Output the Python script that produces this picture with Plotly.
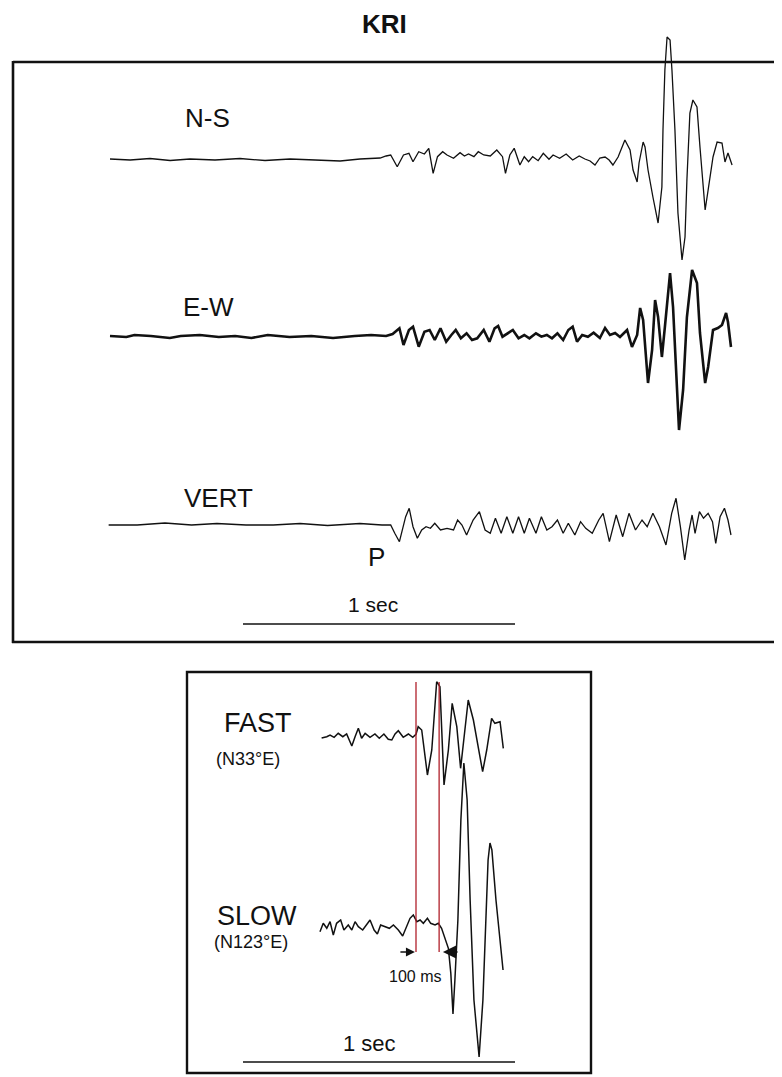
import plotly.graph_objects as go

# page body has an 8 px margin: the figure is placed so that page pixels match the reference
PAGE_W, PAGE_H = 782, 1077
BODY_MARGIN = 8
FIG_W, FIG_H = PAGE_W - BODY_MARGIN, PAGE_H - BODY_MARGIN

PX_PER_SEC = 272.0      # horizontal scale: 1 s of record
X_ORIGIN_PX = 110.0     # page pixel of t = 0

# ---------------- data (time in s, amplitude in arbitrary units, + = up) -------------
ns_time = [0.000, 0.074, 0.147, 0.221, 0.294, 0.386, 0.478, 0.570, 0.662, 0.754, 0.846, 0.919, 0.993,
           1.015, 1.032, 1.056, 1.079, 1.099, 1.114, 1.135, 1.156, 1.172, 1.188, 1.204, 1.223, 1.239,
           1.263, 1.287, 1.303, 1.318, 1.338, 1.354, 1.374, 1.398, 1.422, 1.443, 1.454, 1.470, 1.486,
           1.507, 1.523, 1.539, 1.554, 1.574, 1.593, 1.614, 1.629, 1.653, 1.677, 1.701, 1.725,
           1.746, 1.765, 1.783, 1.801, 1.820, 1.835, 1.849, 1.868, 1.893, 1.912, 1.923, 1.938, 1.945,
           1.960, 1.967, 1.978, 1.996, 2.015, 2.029, 2.033, 2.040, 2.048, 2.059, 2.066, 2.077, 2.088,
           2.103, 2.114, 2.121, 2.132, 2.143, 2.158, 2.169, 2.180, 2.188, 2.199, 2.217, 2.232, 2.250,
           2.261, 2.272, 2.287]
ns_amp = [1, 0, 1.5, -0.5, 1, 0, 1.5, -0.5, 1, 0, -1, 1, 2,
          4, 5, -6.7, 5, 6.7, -1.7, 8.3, 6, 11.7, -13.3, 3.3, 8.3, 5,
          1.7, 7.3, 4, 6, 3.3, 8.3, 5, 4, 10, 3.3, -13.3, 5, 11.7,
          -5, 3.3, -1.7, 3.3, -0.7, 6.7, 0.7, 5, 1.7, 6, 0, 4,
          1, -1, -5, 2, 3, 0, -5, 3, 20, 10, -10, -22, -3,
          18, 13, -10, -37, -63, -27, 30, 90, 123, 120, 90, 30, -53,
          -100, -77, -20, 47, 60, 53, 13, -20, -50, -30, 3, 18, 17,
          -2, 7, -5]

ew_time = [0.000, 0.060, 0.090, 0.150, 0.220, 0.260, 0.330, 0.400, 0.460, 0.520, 0.580, 0.660,
           0.740, 0.820, 0.900, 0.960,
           1.015, 1.039, 1.064, 1.079, 1.099, 1.114, 1.135, 1.156, 1.175, 1.194, 1.215, 1.236,
           1.255, 1.271, 1.290, 1.311, 1.331, 1.350, 1.374, 1.395, 1.414, 1.427, 1.443, 1.462,
           1.481, 1.502, 1.523, 1.542, 1.566, 1.586, 1.606, 1.625, 1.645, 1.666, 1.685, 1.701,
           1.717, 1.736, 1.757, 1.778,
           1.801, 1.820, 1.838, 1.857, 1.875, 1.901, 1.919, 1.938, 1.949, 1.960, 1.974, 1.978,
           1.993, 2.004, 2.015, 2.029, 2.040, 2.059, 2.070, 2.085, 2.092, 2.107, 2.121, 2.140,
           2.158, 2.169, 2.188, 2.199, 2.217, 2.235, 2.250, 2.265, 2.272, 2.283]
ew_amp = [0, -1, 1, 0, -2, 0, 1, -1, 0, -2, 1, -1,
          0, -2, 0, 1,
          0, 2, 7.7, -9, 6, 9.3, -10.7, 4.3, 6, -4, 7.7, -5.7,
          1, 6, -2.3, 2.7, -4, -2.3, 6, -5.7, 7.7, 10, -0.7, 2.7,
          6, -2.3, 1, -2.3, 2.7, -0.7, 1, -2.3, 2.7, -4, 6, 9.3,
          -5.7, 1, -0.7, 3.3,
          -2, 8, 1, 3, -1, 6, -11, 1, 28, 16, -27, -47,
          -14, 36, 19, -21, 9, 63, 29, -47, -94, -54, 19, 66,
          53, 3, -47, -31, 6, 8, 11, 23, 14, -11]

vert_time = [-0.005, 0.100, 0.202, 0.300, 0.393, 0.500, 0.600, 0.699, 0.800, 0.919, 1.000,
             1.032, 1.047, 1.064, 1.087, 1.100, 1.114, 1.130, 1.146, 1.162, 1.178, 1.194, 1.215,
             1.239, 1.263, 1.278, 1.294, 1.311, 1.335, 1.358, 1.379, 1.398, 1.417, 1.438, 1.459,
             1.481, 1.502, 1.523, 1.542, 1.566, 1.586, 1.606, 1.625, 1.645, 1.666, 1.685, 1.709,
             1.730, 1.749, 1.773, 1.797, 1.813, 1.836, 1.861, 1.885, 1.908, 1.932, 1.956, 1.975,
             1.996, 2.020, 2.044, 2.065, 2.081, 2.097, 2.113, 2.129, 2.140, 2.151, 2.167, 2.182,
             2.199, 2.215, 2.227, 2.243, 2.259, 2.272, 2.283]
vert_amp = [0, 0, 2, 0, 1.5, 0, 0, 1.5, -0.5, 1.5, 0,
            0, -8.3, -16.7, 8.3, 16.7, -1.7, -13.3, -5, -1.7, -3.3, 1.7, -5,
            -3.3, -5, 5, 0, -10, 5, 13.3, -5, -8.3, 6.7, -8.3, 8.3,
            -8.3, 8.3, -8.3, 6.7, -8.3, 8.3, -5, -1.7, 5, -8.3, 1.7, -10,
            3.3, -3.3, -8.3, 5, 11.7, -16.7, 10, -11.7, 11.7, -5, 5, -1.7,
            11.7, -1.7, -20, 11.7, 26.7, -1.7, -35, -5, 10, -8.3, 13.3, 6.7,
            11.7, 3.3, -18.3, 8.3, 16.7, 5, -10]

fast_time = [0.778, 0.797, 0.809, 0.824, 0.839, 0.856, 0.870, 0.889, 0.901, 0.913, 0.925, 0.938,
             0.956, 0.974, 0.990, 1.007, 1.023, 1.036, 1.048, 1.060, 1.078, 1.097, 1.113, 1.125,
             1.133, 1.146, 1.167, 1.183, 1.201, 1.213, 1.228, 1.244, 1.258, 1.275, 1.289, 1.301,
             1.317, 1.336, 1.370, 1.385, 1.403, 1.415, 1.434, 1.446]
fast_amp = [0, 1.3, 3, 0.7, 4.7, 1.3, 4, -8, 1.3, 9.7, -0.3, 4.7,
            0.7, 4, -0.3, 4, -1.3, -2, 4, 7.3, 0.7, 4, 0.7, 3.7,
            11.3, 8, -37, -12, 56.3, 51.3, -47, -12, 34.7, 11.3, -30.3, -2,
            38, 18, -33.7, -12, 19.7, 14.7, 16.3, -10.3]

slow_time = [0.772, 0.784, 0.797, 0.809, 0.821, 0.833, 0.848, 0.860, 0.876, 0.889, 0.901, 0.913,
             0.929, 0.941, 0.956, 0.971, 0.983, 0.995, 1.011, 1.027, 1.042, 1.060, 1.076, 1.091,
             1.103, 1.115, 1.128, 1.140, 1.152, 1.167, 1.179, 1.195, 1.207, 1.219, 1.232, 1.244,
             1.253, 1.261, 1.268, 1.279, 1.290, 1.301, 1.313, 1.324, 1.338, 1.357, 1.371, 1.382,
             1.390, 1.397, 1.404, 1.419, 1.434, 1.445]
slow_amp = [-6.7, 1.7, -3.3, 3.3, -10, 1.7, 5, -5, 0, -5, 3.3, -1.7,
            -5, 0, 5, -5, -9, 0, -1.7, -3.3, 0, -5, -11, 0,
            6.7, 10, 3.3, 5, 1.7, 6.7, 1.7, 0, 1.7, -3.3, -15, -23.3,
            -48.3, -89, -55, 5, 105, 162, 125, 25, -75, -132, -75, 5,
            65, 82, 75, 25, -20, -45]

pick_times = [1.125, 1.210]        # S-wave picks on fast / slow components
scale_bar_seconds = 1.0

# ---------------- layout constants (page pixel positions) -------------
NS_BASE, EW_BASE, VERT_BASE = 160, 336, 525
FAST_BASE, SLOW_BASE = 738, 925
BAR_START = (243 - X_ORIGIN_PX) / PX_PER_SEC

fig = go.Figure()


def add_wave(t, a, base_px, width):
    fig.add_trace(go.Scatter(x=t, y=[-base_px + v for v in a], mode="lines",
                             line=dict(color="#111111", width=width),
                             hoverinfo="skip", showlegend=False))


add_wave(ns_time, ns_amp, NS_BASE, 1.3)
add_wave(ew_time, ew_amp, EW_BASE, 2.6)
add_wave(vert_time, vert_amp, VERT_BASE, 1.3)
add_wave(fast_time, fast_amp, FAST_BASE, 1.5)
add_wave(slow_time, slow_amp, SLOW_BASE, 1.5)

# red pick lines
for pt in pick_times:
    fig.add_trace(go.Scatter(x=[pt, pt], y=[-682, -952], mode="lines",
                             line=dict(color="#b0202a", width=1.3),
                             hoverinfo="skip", showlegend=False))

# 1 sec scale bars
for ybar in (624, 1062):
    fig.add_trace(go.Scatter(x=[BAR_START, BAR_START + scale_bar_seconds], y=[-ybar, -ybar],
                             mode="lines", line=dict(color="#111111", width=1.5),
                             hoverinfo="skip", showlegend=False))


def px(x):
    return (x - BODY_MARGIN) / FIG_W


def py(y):
    return 1 - (y - BODY_MARGIN) / FIG_H


shapes = [
    # top panel frame (right side runs off the page)
    dict(type="line", xref="paper", yref="paper", x0=px(13), x1=1.02, y0=py(62), y1=py(62),
         line=dict(color="#111111", width=2.6)),
    dict(type="line", xref="paper", yref="paper", x0=px(13), x1=px(13), y0=py(61), y1=py(643),
         line=dict(color="#111111", width=2.6)),
    dict(type="line", xref="paper", yref="paper", x0=px(12), x1=1.02, y0=py(642), y1=py(642),
         line=dict(color="#111111", width=2.6)),
    # bottom panel frame
    dict(type="rect", xref="paper", yref="paper", x0=px(187), x1=px(591), y0=py(1073), y1=py(672),
         line=dict(color="#111111", width=2.4)),
]

FONT = "Liberation Sans"


def label(x, y, text, size, bold=False, xanchor="center"):
    return dict(xref="paper", yref="paper", x=px(x), y=py(y), text=text, showarrow=False,
                xanchor=xanchor, yanchor="middle",
                font=dict(family=FONT, size=size, color="#111111",
                          weight="bold" if bold else "normal"))


annotations = [
    label(384, 24, "KRI", 26, bold=True),
    label(183, 118, "N-S", 26, xanchor="left"),
    label(181, 307, "E-W", 26, xanchor="left"),
    label(182, 498, "VERT", 26, xanchor="left"),
    label(376, 557, "P", 26),
    label(373, 604, "1 sec", 21),
    label(222, 723, "FAST", 27, xanchor="left"),
    label(214, 759, "(N33°E)", 18, xanchor="left"),
    label(215, 916, "SLOW", 27, xanchor="left"),
    label(212, 942, "(N123°E)", 18, xanchor="left"),
    label(415, 976, "100 ms", 16),
    label(369, 1043, "1 sec", 22),
]

# arrows pointing to the two picks
annotations.append(dict(xref="x", yref="y", x=1.121, y=-952, ax=-16, ay=0, text="",
                        showarrow=True, arrowhead=2, arrowsize=1.2, arrowwidth=1.5,
                        arrowcolor="#111111"))
annotations.append(dict(xref="x", yref="y", x=1.224, y=-952, ax=16, ay=0, text="",
                        showarrow=True, arrowhead=2, arrowsize=1.2, arrowwidth=2.2,
                        arrowcolor="#111111"))

fig.update_layout(
    width=FIG_W, height=FIG_H,
    margin=dict(l=0, r=0, t=0, b=0),
    paper_bgcolor="white", plot_bgcolor="white",
    xaxis=dict(range=[(BODY_MARGIN - X_ORIGIN_PX) / PX_PER_SEC,
                      (BODY_MARGIN + FIG_W - X_ORIGIN_PX) / PX_PER_SEC],
               visible=False, fixedrange=True),
    yaxis=dict(range=[-(BODY_MARGIN + FIG_H), -BODY_MARGIN], visible=False, fixedrange=True),
    shapes=shapes, annotations=annotations,
)

fig.write_html("out.html")
